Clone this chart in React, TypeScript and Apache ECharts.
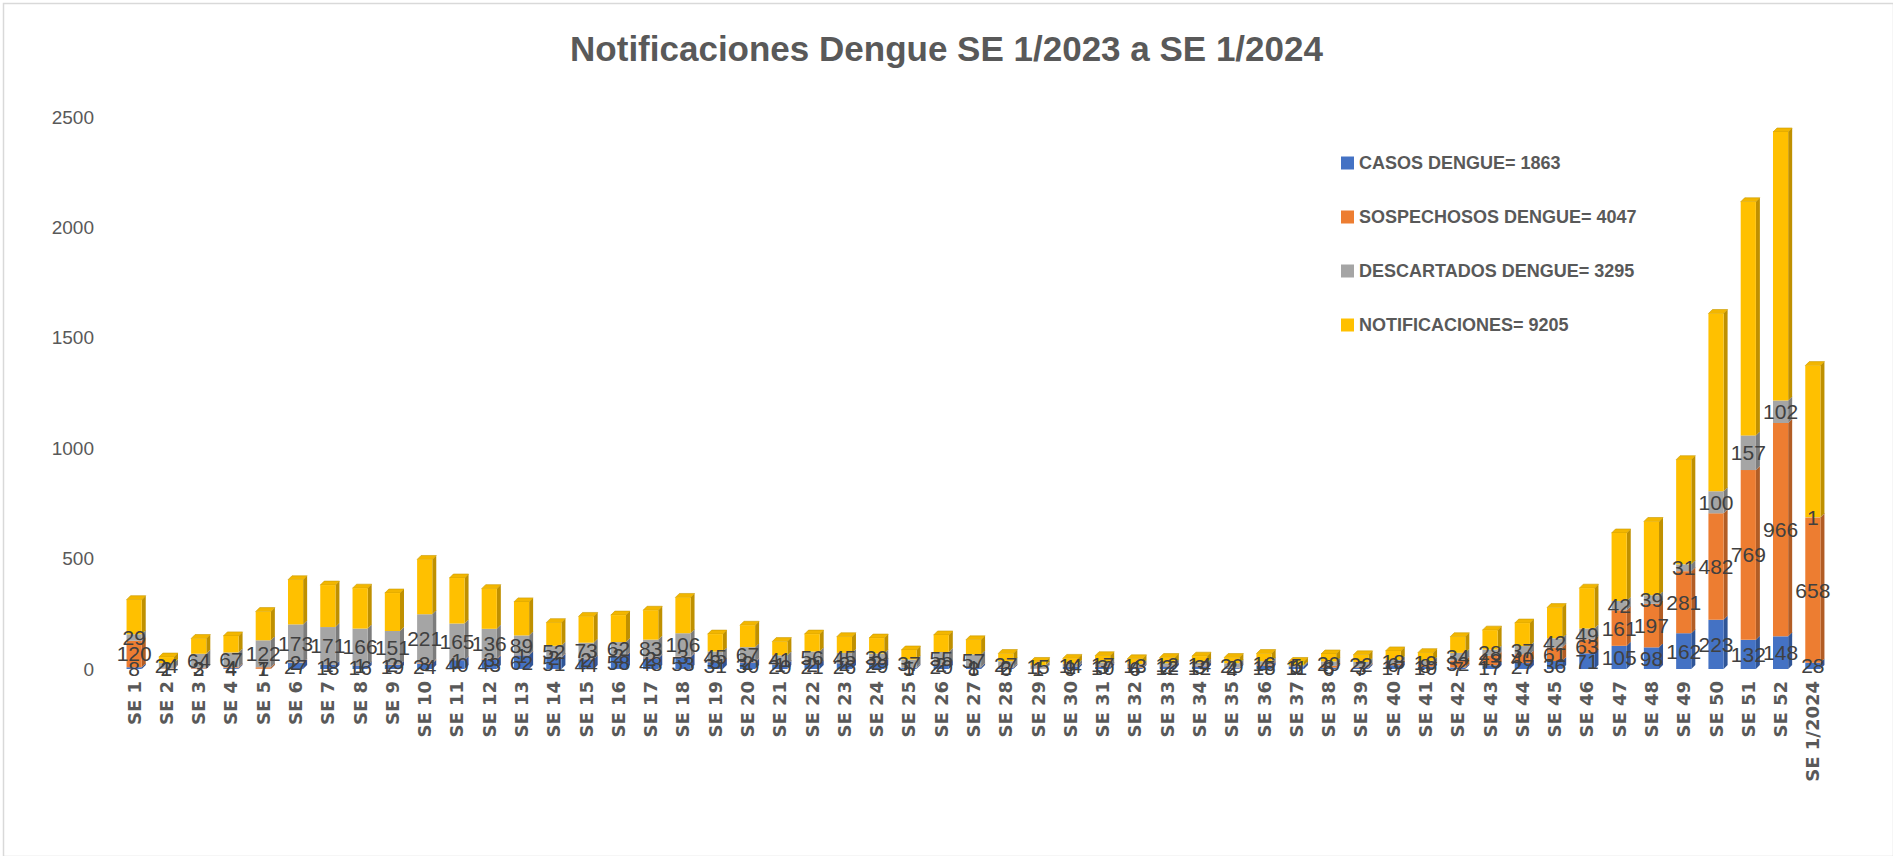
import React, { useEffect, useRef } from 'react';
import * as echarts from 'echarts';

const categories = [
  'SE 1', 'SE 2', 'SE 3', 'SE 4', 'SE 5', 'SE 6', 'SE 7', 'SE 8', 'SE 9', 'SE 10',
  'SE 11', 'SE 12', 'SE 13', 'SE 14', 'SE 15', 'SE 16', 'SE 17', 'SE 18', 'SE 19', 'SE 20',
  'SE 21', 'SE 22', 'SE 23', 'SE 24', 'SE 25', 'SE 26', 'SE 27', 'SE 28', 'SE 29', 'SE 30',
  'SE 31', 'SE 32', 'SE 33', 'SE 34', 'SE 35', 'SE 36', 'SE 37', 'SE 38', 'SE 39', 'SE 40',
  'SE 41', 'SE 42', 'SE 43', 'SE 44', 'SE 45', 'SE 46', 'SE 47', 'SE 48', 'SE 49', 'SE 50',
  'SE 51', 'SE 52', 'SE 1/2024',
];

const casos = [
  8, 1, 2, 4, 1, 27, 18, 16, 19, 24,
  40, 43, 62, 51, 44, 58, 48, 53, 31, 30,
  20, 21, 26, 29, 5, 20, 8, 6, 1, 9,
  10, 6, 12, 12, 4, 15, 11, 6, 7, 17,
  10, 7, 17, 27, 36, 71, 105, 98, 162, 223,
  132, 148, 28,
];

const sospechosos = [
  120, 2, 3, 4, 7, 2, 1, 1, 2, 3,
  1, 3, 1, 2, 2, 2, 2, 3, 3, 2,
  1, 2, 2, 2, 1, 2, 1, 2, 1, 1,
  3, 4, 2, 3, 2, 4, 1, 8, 3, 6,
  8, 32, 43, 40, 61, 63, 161, 197, 281, 482,
  769, 966, 658,
];

const descartados = [
  29, 24, 64, 67, 122, 173, 171, 166, 151, 221,
  165, 136, 89, 52, 73, 62, 83, 106, 45, 67,
  41, 56, 45, 39, 37, 55, 57, 27, 15, 14,
  17, 13, 12, 14, 20, 16, 5, 20, 22, 18,
  19, 34, 28, 37, 42, 49, 42, 39, 31, 100,
  157, 102, 1,
];

const notificaciones = [
  157, 27, 69, 75, 130, 202, 190, 183, 172, 248,
  206, 182, 152, 105, 119, 122, 133, 162, 79, 99,
  62, 79, 73, 70, 43, 77, 66, 35, 17, 24,
  30, 23, 26, 29, 26, 35, 17, 34, 32, 41,
  37, 73, 88, 104, 139, 183, 308, 334, 474, 805,
  1058, 1216, 687,
];

const seriesNames = [
  'CASOS DENGUE= 1863',
  'SOSPECHOSOS DENGUE= 4047',
  'DESCARTADOS DENGUE= 3295',
  'NOTIFICACIONES= 9205',
];

const yTicks = { min: 0, max: 2500, interval: 500 };

const frontColors = ['#4472C4', '#ED7D31', '#A5A5A5', '#FFC000'];
const sideColors = ['#2F5597', '#B25D25', '#7C7C7C', '#BF9000'];
const topColor = '#F2B600';

const BAR_RATIO = 0.47;
const DEPTH = 4;
const FONT = '"Liberation Sans", Arial, sans-serif';

export default function App() {
  const ref = useRef<HTMLDivElement>(null);

  useEffect(() => {
    if (!ref.current) return;
    document.body.style.margin = '0';
    const chart = echarts.init(ref.current, null, { renderer: 'svg' });

    const valueSets = [casos, sospechosos, descartados, notificaciones];

    const barSeries = valueSets.map((vals, k) => ({
      name: seriesNames[k],
      type: 'bar',
      stack: 'total',
      barWidth: BAR_RATIO * 100 + '%',
      data: vals,
      z: 3,
      itemStyle: { color: frontColors[k] },
      label: {
        show: k < 3,
        position: 'inside',
        color: '#404040',
        fontSize: 21,
        fontFamily: FONT,
        formatter: (p: any) => (p.value ? String(p.value) : ''),
      },
    }));

    const customData = categories.map((_, i) => [i, casos[i], sospechosos[i], descartados[i], notificaciones[i]]);

    const depthSeries = {
      type: 'custom',
      name: '3d',
      z: 2,
      silent: true,
      encode: { x: 0, y: 4 },
      data: customData,
      renderItem: (params: any, api: any) => {
        const i = api.value(0);
        const vals = [api.value(1), api.value(2), api.value(3), api.value(4)];
        const bw = api.size([1, 0])[0] * BAR_RATIO;
        const d = DEPTH;
        const children: any[] = [];
        let cum = 0;
        vals.forEach((v: number, k: number) => {
          if (!v) return;
          const p0 = api.coord([i, cum]);
          cum += v;
          const p1 = api.coord([i, cum]);
          const x1 = p0[0] + bw / 2;
          children.push({
            type: 'polygon',
            shape: { points: [[x1, p1[1]], [x1 + d, p1[1] - d], [x1 + d, p0[1] - d], [x1, p0[1]]] },
            style: { fill: sideColors[k] },
          });
        });
        const top = api.coord([i, cum]);
        const x0 = top[0] - bw / 2;
        const x1 = top[0] + bw / 2;
        children.push({
          type: 'polygon',
          shape: { points: [[x0, top[1]], [x0 + d, top[1] - d], [x1 + d, top[1] - d], [x1, top[1]]] },
          style: { fill: topColor, stroke: '#C99A00', lineWidth: 0.6 },
        });
        return { type: 'group', children };
      },
    };

    chart.setOption({
      animation: false,
      backgroundColor: '#ffffff',
      title: {
        text: 'Notificaciones Dengue SE 1/2023 a SE 1/2024',
        left: 'center',
        top: 26,
        textStyle: { fontFamily: FONT, fontSize: 35, fontWeight: 'bold', color: '#595959' },
      },
      legend: {
        data: seriesNames,
        orient: 'vertical',
        left: 1336,
        top: 148,
        itemWidth: 13,
        itemHeight: 13,
        itemGap: 34,
        icon: 'rect',
        selectedMode: false,
        textStyle: { fontFamily: FONT, fontSize: 18, fontWeight: 'bold', color: '#595959', lineHeight: 20 },
      },
      grid: { left: 118, right: 64, top: 117, bottom: 187, containLabel: false },
      xAxis: {
        type: 'category',
        data: categories,
        axisLine: { show: false },
        axisTick: { show: false },
        axisLabel: {
          interval: 0,
          rotate: 90,
          margin: 12,
          fontFamily: '"DejaVu Sans", sans-serif',
          fontWeight: 'bold',
          fontSize: 18,
          color: '#595959',
        },
      },
      yAxis: {
        type: 'value',
        min: yTicks.min,
        max: yTicks.max,
        interval: yTicks.interval,
        splitLine: { show: false },
        axisLine: { show: false },
        axisTick: { show: false },
        axisLabel: {
          fontFamily: FONT,
          fontSize: 19,
          color: '#595959',
          margin: 24,
          formatter: (v: number) => String(v),
        },
      },
      graphic: [
        {
          type: 'rect',
          left: 1,
          top: 1,
          shape: { x: 0, y: 0, width: 1890, height: 853 },
          style: { fill: 'none', stroke: '#D9D9D9', lineWidth: 1.5 },
          silent: true,
        },
      ],
      series: [...barSeries, depthSeries],
    });

    return () => chart.dispose();
  }, []);

  return <div ref={ref} style={{ position: 'absolute', left: 0, top: 0, width: 1893, height: 856 }} />;
}
